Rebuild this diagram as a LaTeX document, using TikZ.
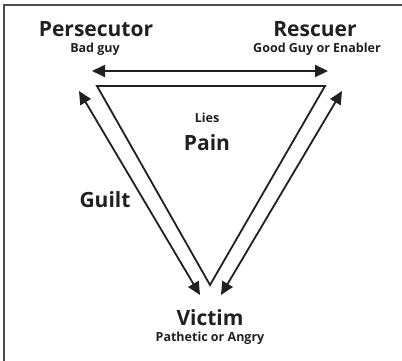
\documentclass[tikz,border=0pt]{standalone}
\usepackage{fontspec}
\setmainfont{Open Sans}
\usetikzlibrary{arrows.meta}

\definecolor{ink}{HTML}{231F20}

\tikzset{
	role/.style={anchor=base, font=\bfseries\fontsize{21}{21}\selectfont, text=ink, inner sep=0pt},
	note/.style={anchor=base, font=\bfseries\fontsize{12.5}{12.5}\selectfont, text=ink, inner sep=0pt},
	dblarrow/.style={line width=1.8pt, draw=ink, {Triangle[length=13pt,width=12pt]}-{Triangle[length=13pt,width=12pt]}}
}

\begin{document}
\begin{tikzpicture}[x=1pt, y=-1pt]
	\useasboundingbox (0, 0) rectangle (402, 361);
	% frame, only top and left edges are visible
	\draw[line width=1.5pt, black!70] (4, 361) -- (4, 5) -- (402, 5);

	% corners of the triangle
	\coordinate (pers) at (97, 86);
	\coordinate (resc) at (325, 86);
	\coordinate (vict) at (210, 285);
	\draw[line width=1.8pt, draw=ink, line join=miter] (pers) -- (resc) -- (vict) -- cycle;

	% ends of the arrows
	\coordinate (top-l) at (92, 71);
	\coordinate (top-r) at (328, 71);
	\coordinate (left-up) at (79, 91);
	\coordinate (left-down) at (200, 295);
	\coordinate (right-up) at (342, 91);
	\coordinate (right-down) at (221, 295);
	\draw[dblarrow] (top-l) -- (top-r);
	\draw[dblarrow] (left-down) -- (left-up);
	\draw[dblarrow] (right-down) -- (right-up);

	\node[role] (persecutor) at (96, 37) {Persecutor};
	\node[note] (badguy) at (95, 53) {Bad guy};
	\node[role] (rescuer) at (315, 37) {Rescuer};
	\node[note] (goodguy) at (317, 53) {Good Guy or Enabler};
	\node[note] (lies) at (207, 123) {Lies};
	\node[role] (pain) at (207, 150) {Pain};
	\node[role] (guilt) at (105, 207) {Guilt};
	\node[role] (victim) at (210, 325) {Victim};
	\node[note] (pathetic) at (210, 341) {Pathetic or Angry};
\end{tikzpicture}
\end{document}
